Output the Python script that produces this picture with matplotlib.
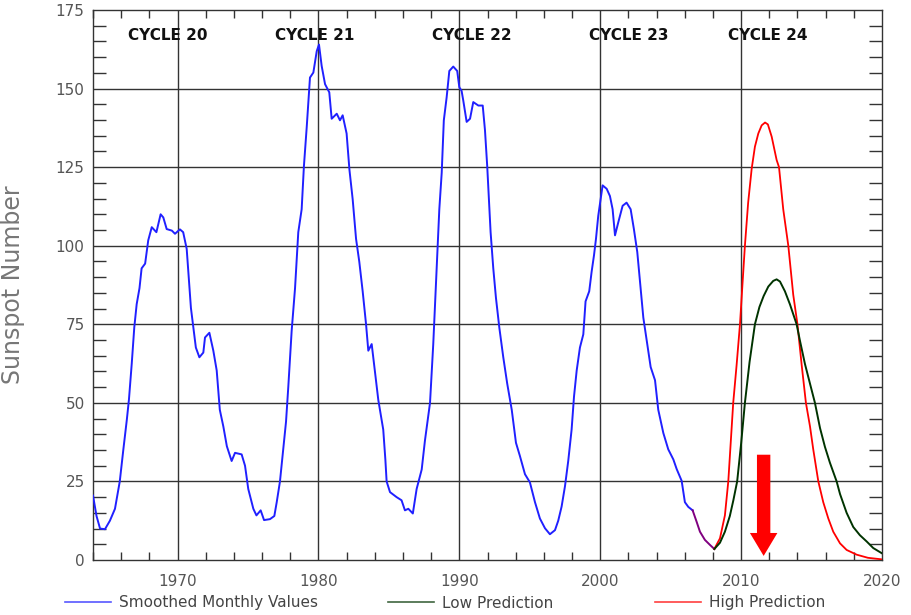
import matplotlib
matplotlib.use("Agg")
import matplotlib.pyplot as plt
from matplotlib.lines import Line2D
from matplotlib.ticker import MultipleLocator

# Smoothed monthly sunspot numbers, cycles 20-23
smoothed_years = [
    1964.00, 1964.25, 1964.50, 1964.85, 1965.20, 1965.56, 1965.90, 1966.15, 1966.40, 1966.55,
    1966.75, 1966.93, 1967.10, 1967.30, 1967.45, 1967.70, 1967.92, 1968.17, 1968.50, 1968.80,
    1968.99, 1969.23, 1969.60, 1969.82, 1970.17, 1970.40, 1970.65, 1970.80, 1970.95, 1971.12,
    1971.30, 1971.55, 1971.83, 1971.95, 1972.26, 1972.54, 1972.78, 1973.00, 1973.25, 1973.50,
    1973.84, 1974.08, 1974.55, 1974.79, 1975.02, 1975.38, 1975.60, 1975.90, 1976.14, 1976.56,
    1976.87, 1977.04, 1977.27, 1977.50, 1977.70, 1977.86, 1978.10, 1978.34, 1978.57, 1978.81,
    1978.97, 1979.17, 1979.40, 1979.64, 1979.88, 1980.04, 1980.23, 1980.47, 1980.77, 1980.94,
    1981.30, 1981.53, 1981.72, 1982.00, 1982.20, 1982.43, 1982.67, 1982.90, 1983.14, 1983.38,
    1983.54, 1983.78, 1984.00, 1984.25, 1984.60, 1984.75, 1984.84, 1985.08, 1985.55, 1985.90,
    1986.14, 1986.38, 1986.70, 1986.97, 1987.33, 1987.56, 1987.80, 1987.92, 1988.15, 1988.39,
    1988.58, 1988.75, 1988.90, 1989.10, 1989.29, 1989.57, 1989.85, 1990.00, 1990.16, 1990.28,
    1990.52, 1990.76, 1990.99, 1991.35, 1991.66, 1991.82, 1991.98, 1992.10, 1992.22, 1992.41,
    1992.60, 1992.84, 1993.12, 1993.40, 1993.72, 1994.02, 1994.30, 1994.66, 1995.01, 1995.37,
    1995.72, 1996.08, 1996.43, 1996.79, 1997.02, 1997.26, 1997.50, 1997.73, 1997.97, 1998.14,
    1998.33, 1998.56, 1998.80, 1998.96, 1999.22, 1999.39, 1999.56, 1999.70, 1999.86, 2000.03,
    2000.17, 2000.46, 2000.69, 2000.88, 2001.05, 2001.28, 2001.59, 2001.87, 2002.16, 2002.39,
    2002.63, 2002.82, 2003.06, 2003.34, 2003.58, 2003.89, 2004.12, 2004.48, 2004.83, 2005.19,
    2005.43, 2005.78, 2006.01, 2006.25, 2006.56,
]
smoothed_values = [
    20.5, 14.0, 10.0, 9.8, 12.5, 16.3, 25.0, 35.0, 44.6, 51.0,
    62.5, 74.0, 81.4, 86.5, 92.8, 94.3, 101.7, 105.9, 104.3, 110.0,
    109.0, 105.3, 104.8, 103.8, 105.2, 104.3, 99.0, 89.6, 80.2, 74.0,
    67.6, 64.5, 66.0, 70.8, 72.3, 66.6, 60.3, 47.8, 42.5, 36.2,
    31.5, 34.1, 33.6, 30.0, 22.6, 16.3, 14.2, 15.8, 12.7, 13.0,
    14.0, 18.4, 25.0, 35.2, 44.0, 55.0, 72.9, 86.5, 104.3, 111.6,
    125.3, 137.8, 153.5, 155.1, 161.9, 164.0, 157.2, 151.4, 148.8, 140.4,
    142.0, 139.9, 141.5, 135.7, 124.2, 114.8, 102.2, 94.9, 85.5, 75.0,
    66.6, 68.7, 60.3, 50.9, 41.5, 32.0, 25.0, 21.6, 20.0, 19.0,
    15.8, 16.3, 14.8, 22.6, 28.8, 38.0, 46.0, 50.0, 68.7, 92.8,
    111.6, 123.2, 139.9, 147.2, 155.6, 157.0, 155.6, 150.4, 149.3, 146.2,
    139.4, 140.4, 145.7, 144.6, 144.6, 136.8, 125.3, 114.8, 104.3, 92.8,
    83.4, 73.9, 64.5, 56.1, 47.8, 37.3, 33.1, 27.3, 24.7, 18.4,
    13.2, 10.1, 8.2, 9.5, 12.5, 17.0, 23.5, 31.5, 41.5, 52.0,
    60.3, 67.6, 71.8, 82.3, 85.5, 91.7, 97.0, 102.2, 109.5, 114.8,
    119.2, 118.1, 115.8, 111.6, 103.3, 107.4, 112.7, 113.7, 111.6, 105.3,
    98.0, 88.6, 77.1, 68.7, 61.4, 57.2, 47.8, 40.4, 35.2, 32.0,
    28.9, 25.2, 18.4, 16.9, 15.8,
]

# Provisional values leading into the cycle 24 minimum
provisional_years = [2006.56, 2006.84, 2007.08, 2007.43, 2007.79, 2008.10]
provisional_values = [15.8, 12.2, 9.0, 6.4, 4.8, 3.5]

# Cycle 24 predictions
low_years = [
    2008.10, 2008.50, 2008.85, 2009.20, 2009.45, 2009.72, 2010.00, 2010.27, 2010.60, 2010.98,
    2011.30, 2011.60, 2011.93, 2012.28, 2012.52, 2012.76, 2013.11, 2013.47, 2013.94, 2014.18,
    2014.53, 2014.89, 2015.24, 2015.60, 2015.95, 2016.30, 2016.78, 2017.02, 2017.49, 2017.96,
    2018.43, 2018.91, 2019.38, 2019.97,
]
low_values = [
    3.5, 5.5, 9.0, 14.0, 19.0, 25.0, 37.0, 50.0, 63.0, 75.0,
    80.5, 84.0, 87.0, 88.8, 89.3, 88.6, 85.5, 81.3, 75.0, 69.7,
    62.4, 56.1, 50.0, 42.0, 36.0, 31.0, 25.0, 21.0, 15.0, 10.5,
    7.9, 5.9, 3.8, 2.2,
]

high_years = [
    2008.10, 2008.50, 2008.85, 2009.09, 2009.44, 2009.68, 2009.92, 2010.10, 2010.27, 2010.50,
    2010.75, 2010.98, 2011.22, 2011.46, 2011.70, 2011.90, 2012.17, 2012.52, 2012.69, 2012.99,
    2013.35, 2013.70, 2014.00, 2014.30, 2014.60, 2014.89, 2015.12, 2015.48, 2015.83, 2016.19,
    2016.54, 2017.02, 2017.49, 2018.20, 2019.00, 2020.00,
]
high_values = [
    3.5, 6.9, 14.2, 25.0, 50.0, 62.0, 75.0, 88.0, 100.0, 113.7,
    124.5, 131.5, 135.7, 138.3, 139.2, 138.6, 134.7, 127.3, 125.0, 111.6,
    100.0, 84.4, 75.0, 62.0, 50.0, 42.5, 35.2, 25.0, 18.4, 13.2,
    9.0, 5.3, 3.2, 1.7, 0.7, 0.2,
]

cycle_names = ["CYCLE 20", "CYCLE 21", "CYCLE 22", "CYCLE 23", "CYCLE 24"]
cycle_label_years = [1966.5, 1976.9, 1988.05, 1999.2, 2009.07]
cycle_label_level = 167.0

# Marker arrow for the expected cycle 24 maximum period
arrow_year = 2011.6
arrow_top = 33.5
arrow_tip = 1.3

x_range = (1964, 2020)
y_range = (0, 175)
x_major = [1970, 1980, 1990, 2000, 2010, 2020]
y_major = [0, 25, 50, 75, 100, 125, 150, 175]

blue = "#2020ff"
green = "#003300"
red = "#ff0000"
purple = "#800080"
text_grey = "#555555"

plt.rcParams["font.family"] = ["DejaVu Sans"]

fig = plt.figure(figsize=(9.11, 6.15), dpi=100)
ax = fig.add_axes([93 / 911, 55 / 615, 789 / 911, 550 / 615])

ax.set_xlim(*x_range)
ax.set_ylim(*y_range)

# Grid at major positions
for xv in x_major[:-1]:
    ax.axvline(xv, color="#333333", lw=1.0, zorder=1)
for yv in y_major[1:-1]:
    ax.axhline(yv, color="#333333", lw=1.0, zorder=1)

ax.plot(smoothed_years, smoothed_values, color=blue, lw=1.4, zorder=3)
ax.plot(provisional_years, provisional_values, color=purple, lw=1.4, zorder=3)
ax.plot(high_years, high_values, color=red, lw=1.3, zorder=3)
ax.plot(low_years, low_values, color=green, lw=1.4, zorder=4)

# Red arrow
arrow_len = arrow_tip - arrow_top
ax.arrow(arrow_year, arrow_top, 0, arrow_len, width=0.95, head_width=1.95,
         head_length=7.3, length_includes_head=True, color=red, lw=0, zorder=5)

for name, yr in zip(cycle_names, cycle_label_years):
    ax.text(yr, cycle_label_level, name, ha="left", va="center",
            fontsize=11, fontweight="bold", color="#111111", zorder=6)

ax.set_xticks(x_major)
ax.set_yticks(y_major)
ax.xaxis.set_minor_locator(MultipleLocator(2))
ax.yaxis.set_minor_locator(MultipleLocator(5))
ax.tick_params(axis="both", which="major", length=0, labelsize=11, labelcolor=text_grey)
ax.tick_params(axis="x", which="major", pad=10)
ax.tick_params(axis="y", which="major", pad=6)
ax.tick_params(axis="x", which="minor", direction="in", length=5.5, width=1.0,
               top=True, bottom=True, color="#333333")
ax.tick_params(axis="y", which="minor", direction="in", length=9.5, width=1.0,
               left=True, right=True, color="#333333")

for sp in ax.spines.values():
    sp.set_color("#333333")
    sp.set_linewidth(1.0)

ax.set_ylabel("Sunspot Number", fontsize=17, color="#777777")
ax.yaxis.set_label_coords(-0.086, 0.5)

# Legend entries spread along the bottom
legend_entries = [
    ("Smoothed Monthly Values", blue, 65 / 911),
    ("Low Prediction", green, 388 / 911),
    ("High Prediction", red, 655 / 911),
]
for label, col, xpos in legend_entries:
    handle = Line2D([], [], color=col, lw=1.2, alpha=0.75)
    fig.legend([handle], [label], loc="center left", bbox_to_anchor=(xpos, 12 / 615),
               frameon=False, fontsize=11, handlelength=3.0, handletextpad=0.55,
               borderpad=0, borderaxespad=0, labelcolor="#444444")

fig.savefig("out.png", dpi=100)
